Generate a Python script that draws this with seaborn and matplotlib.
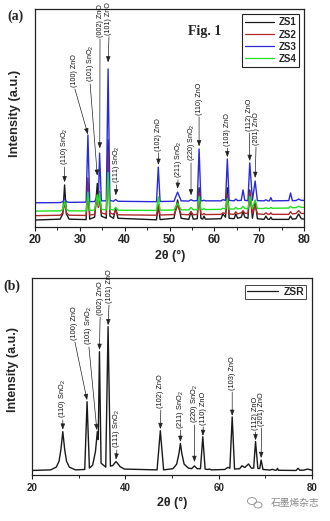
import numpy as np
import pandas as pd
import matplotlib
matplotlib.use("Agg")
import matplotlib.pyplot as plt
import seaborn as sns
from matplotlib.lines import Line2D
from matplotlib.patches import Ellipse

# ---------------- data ----------------
# Panel (a): common 2theta vertices and intensity of each sample (a.u.)
two_theta_a = [20, 25.6, 26.2, 26.6, 27.0, 27.6, 31.4, 31.8, 32.2, 33.3, 33.9, 34.15, 34.4, 34.8,
               35.9, 36.3, 36.7, 37.5, 38.0, 38.5, 47.1, 47.5, 47.9, 51.0, 51.8, 52.6, 54.3, 54.8,
               55.3, 56.2, 56.6, 57.0, 57.4, 57.7, 58.0, 61.5, 61.9, 62.5, 62.9, 63.3, 64.4, 64.8,
               65.2, 66.0, 66.4, 66.8, 67.5, 67.9, 68.5, 69.1, 69.6, 71.1, 71.5, 71.9, 72.3, 72.6,
               72.9, 76.6, 77.0, 77.4, 78.2, 78.8, 79.4, 80]
zs1 = [3.2, 3.6, 6, 19.3, 6, 3.6, 3.4, 20, 3.6, 4.5, 20, 9, 16, 5,
       4, 40, 5, 4, 8.7, 4, 3.3, 10, 3.4, 4, 12.4, 4, 3.5, 7,
       3.6, 3.8, 18, 4, 3.6, 5, 3.6, 3.8, 6, 4.5, 18, 4, 3.8, 6,
       4, 4.5, 7, 4.5, 4, 17, 4, 12, 3.8, 3.5, 5, 3.6, 3.5, 4.5,
       3.5, 3.5, 5, 3.6, 3.8, 6, 3.8, 3.6]
zs2 = [5.2, 5.4, 6.5, 11, 6.5, 5.4, 5.3, 22.5, 5.5, 5.8, 15, 9, 16, 6.5,
       5.8, 35, 6.5, 5.8, 7.5, 5.6, 5.4, 10, 5.5, 5.7, 10, 5.8, 5.6, 7,
       5.6, 5.8, 16, 5.9, 5.7, 6.2, 5.7, 5.8, 6.5, 6.2, 15, 6, 5.8, 7,
       6, 6.5, 7.5, 6.3, 6.2, 16, 6.2, 10, 6, 5.8, 6.5, 5.9, 5.8, 6.5,
       5.8, 5.8, 7, 6, 6.2, 7.5, 6.2, 6.2]
zs3 = [11.1, 11.2, 11.6, 12.8, 11.6, 11.3, 11.4, 42.2, 11.6, 11.7, 14, 12.5, 33.9, 12,
       12, 72.5, 12.2, 11.8, 12.6, 11.8, 11.6, 27.5, 11.7, 11.8, 16, 12, 11.9, 12.5,
       12, 12.1, 35.8, 12.1, 12, 12.3, 12, 12, 12.5, 12.2, 31.2, 12.2, 12, 12.8,
       12.1, 12.2, 17, 12.2, 12.1, 29.4, 12.3, 21.1, 12.1, 12, 12.5, 12, 12, 13.5,
       12, 12.1, 15.6, 12.1, 12.1, 12.8, 12.2, 12.2]
zs4 = [7.3, 7.4, 8, 12, 8, 7.4, 7.4, 16, 7.6, 7.8, 14.7, 10, 15.6, 8.2,
       7.8, 25, 8.2, 7.8, 9, 7.7, 7.6, 13.8, 7.7, 7.8, 11, 7.9, 7.8, 9,
       7.9, 8, 14, 8.1, 8, 8.5, 8, 8.1, 8.6, 8.3, 13, 8.3, 8.2, 9,
       8.3, 8.5, 9.5, 8.5, 8.4, 14, 8.5, 12.4, 8.5, 8.5, 8.8, 8.5, 8.5, 9,
       8.6, 8.7, 9.5, 8.8, 8.9, 9.5, 9, 9]
samples_a = ["ZS1", "ZS2", "ZS3", "ZS4"]

# Panel (b): ZSR pattern
two_theta_b = [20, 24.0, 25.2, 25.8, 26.2, 26.6, 27.0, 27.4, 28.0, 29.3, 31.3, 31.8, 32.3, 33.0,
               33.6, 34.0, 34.2, 34.45, 34.8, 35.8, 36.3, 36.8, 37.3, 37.7, 38.0, 38.3, 38.9, 39.8,
               46.8, 47.5, 48.2, 50.2, 51.0, 51.5, 51.8, 52.1, 52.6, 53.5, 54.2, 54.8, 55.4, 56.1,
               56.6, 57.1, 57.6, 58.0, 58.5, 61.3, 62.0, 62.4, 62.9, 63.4, 64.5, 65.0, 65.6, 66.4,
               67.0, 67.5, 67.9, 68.4, 68.8, 69.1, 69.5, 71.0, 71.5, 72.1, 72.4, 72.6, 72.8, 76.6,
               77.0, 77.4, 78.3, 79.0, 79.6, 80]
zsr = [2.3, 2.6, 4, 7, 13, 22, 13, 7, 4, 2.6, 2.8, 37.2, 3.5, 5,
       12, 22, 18, 62.6, 6, 4, 75.3, 4.5, 4.8, 6, 6.8, 6, 4.2, 3,
       2.6, 22.5, 2.6, 3.2, 5.5, 11, 16, 11, 5.5, 3.5, 3.2, 4.6, 3.2, 3.2,
       19.4, 3, 2.8, 3, 2.6, 2.8, 3.9, 3.4, 29.5, 3, 3.2, 4.7, 3.8, 5.6,
       3.5, 3.5, 17, 3.3, 3.3, 7.6, 2.8, 2.5, 2.9, 2.4, 2.5, 3.4, 2.4, 2.3,
       3.4, 2.4, 2.5, 3.0, 2.7, 2.4]

# Peak labels
peak_labels = ["(110) SnO$_2$", "(100) ZnO", "(101) SnO$_2$", "(002) ZnO", "(101) ZnO",
               "(111) SnO$_2$", "(102) ZnO", "(211) SnO$_2$", "(220) SnO$_2$", "(110) ZnO",
               "(103) ZnO", "(112) ZnO", "(201) ZnO"]
peak_pos = [26.6, 31.8, 33.9, 34.45, 36.3, 38.0, 47.5, 51.8, 54.8, 56.6, 62.9, 67.9, 69.1]

# ---------------- style ----------------
sns.set_style("ticks")
plt.rcParams["font.family"] = ["Liberation Sans", "DejaVu Sans"]
plt.rcParams["mathtext.fontset"] = "custom"
plt.rcParams["mathtext.rm"] = "Liberation Sans"
plt.rcParams["mathtext.it"] = "Liberation Sans"
plt.rcParams["mathtext.bf"] = "Liberation Sans:bold"
plt.rcParams["mathtext.default"] = "regular"

W, H = 330, 521
fig = plt.figure(figsize=(W / 100, H / 100), dpi=100)
fig.patch.set_facecolor("white")

axa = fig.add_axes([35 / W, 1 - 227 / H, 269 / W, 218 / H])
axb = fig.add_axes([32 / W, 1 - 475 / H, 280 / W, 197 / H])

colors_a = {"ZS1": "#1a1a1a", "ZS2": "#b0282a", "ZS3": "#2b2bd6", "ZS4": "#22e022"}

df_a = pd.DataFrame({"2theta": two_theta_a, "ZS1": zs1, "ZS2": zs2, "ZS3": zs3, "ZS4": zs4})
df_a = df_a.melt(id_vars="2theta", var_name="sample", value_name="I")
sns.lineplot(data=df_a, x="2theta", y="I", hue="sample", hue_order=samples_a,
             palette=colors_a, ax=axa, lw=1.0, legend=False, estimator=None)

df_b = pd.DataFrame({"2theta": two_theta_b, "I": zsr})
sns.lineplot(data=df_b, x="2theta", y="I", ax=axb, color="#1a1a1a", lw=1.0,
             estimator=None, legend=False)

for ax in (axa, axb):
    ax.set_xlim(20, 80)
    ax.set_ylim(0, 100)
    ax.set_yticks([])
    ax.set_xlabel("")
    ax.set_ylabel("")
    for s in ax.spines.values():
        s.set_visible(True)
        s.set_linewidth(0.9)
        s.set_color("#222222")
    ax.tick_params(axis="x", direction="out", length=3, width=0.8, color="#222222")
    ax.tick_params(axis="x", which="minor", direction="out", length=1.8, width=0.7, color="#222222")

axa.set_xticks([20, 30, 40, 50, 60, 70, 80])
axa.set_xticks([25, 35, 45, 55, 65, 75], minor=True)
axa.set_xticklabels(["20", "30", "40", "50", "60", "70", "80"], fontsize=8.3, fontweight="bold")
axa.tick_params(axis="x", pad=2)
axb.set_xticks([20, 40, 60, 80])
axb.set_xticks([30, 50, 70], minor=True)
axb.set_xticklabels(["20", "40", "60", "80"], fontsize=7, fontweight="bold")
axb.tick_params(axis="x", pad=3)

# legends
handles_a = [Line2D([0], [0], color=colors_a[s], lw=0.9) for s in samples_a]
lega = axa.legend(handles_a, samples_a, loc="upper right", bbox_to_anchor=(0.982, 0.975),
                  frameon=True, fancybox=False, edgecolor="#222222", framealpha=1,
                  prop={"weight": "bold", "size": 7}, handlelength=2.9, labelspacing=0.22,
                  borderpad=0.3, handletextpad=0.5, borderaxespad=0)
lega.get_frame().set_linewidth(0.8)
legb = axb.legend([Line2D([0], [0], color="#1a1a1a", lw=0.9)], ["ZSR"], loc="upper right",
                  bbox_to_anchor=(0.979, 0.965), frameon=True, fancybox=False,
                  edgecolor="#444444", framealpha=1, prop={"weight": "bold", "size": 7.5},
                  handlelength=3.0, borderpad=0.2, handletextpad=0.5, borderaxespad=0)
legb.get_frame().set_linewidth(0.7)

# annotation layout (text x, text bottom y, arrow tip y) in data units
ann_a = [(26.6, 27.5, 20.5), (28.9, 63.3, 42.5), (32.3, 65.6, 23.5), (34.5, 86.3, 36.0),
         (36.5, 87.3, 75.5), (38.2, 19.3, 14.5), (47.6, 34.0, 28.5), (51.9, 21.6, 17.5),
         (54.8, 29.4, 14.5), (56.6, 50.5, 37.0), (62.9, 36.2, 32.0), (67.8, 43.1, 30.3),
         (69.3, 36.7, 22.5)]
ann_b = [(26.6, 27.9, 23.0), (29.2, 67.5, 38.0), (32.2, 65.0, 22.8), (34.6, 80.2, 63.5),
         (36.5, 86.3, 76.0), (38.2, 12.7, 7.8), (47.6, 33.0, 23.3), (51.8, 22.8, 16.8),
         (54.8, 25.4, 6.6), (56.7, 24.4, 19.8), (62.9, 42.1, 30.0), (67.9, 21.8, 17.6),
         (69.2, 23.9, 8.6)]

def annotate(ax, ann, fs):
    for lab, px, (tx, ty, tip) in zip(peak_labels, peak_pos, ann):
        ax.text(tx, ty + 0.8, lab, rotation=90, ha="center", va="bottom", fontsize=fs,
                color="#111111", clip_on=False)
        ax.annotate("", xy=(px, tip), xytext=(tx, ty),
                    arrowprops=dict(arrowstyle="-|>,head_length=0.35,head_width=0.13",
                                    lw=0.5, color="#222222", shrinkA=0, shrinkB=0))

annotate(axa, ann_a, 5.1)
annotate(axb, ann_b, 5.3)

# texts
axa.text(0.63, 0.895, "Fig. 1", transform=axa.transAxes, fontsize=10, fontweight="bold",
         family="Liberation Serif", ha="center", va="center")
fig.text(16 / W, 1 - 16 / H, "(a)", fontsize=10, fontweight="bold", family="Liberation Serif",
         ha="center", va="center")
fig.text(12 / W, 1 - 286 / H, "(b)", fontsize=10, fontweight="bold", family="Liberation Serif",
         ha="center", va="center")
fig.text(15 / W, 1 - 113 / H, "Intensity (a.u.)", rotation=90, fontsize=9.3, fontweight="bold",
         ha="center", va="center")
fig.text(13 / W, 1 - 370 / H, "Intensity (a.u.)", rotation=90, fontsize=9, fontweight="bold",
         ha="center", va="center")
fig.text(170 / W, 1 - 256 / H, "2θ (°)", fontsize=9, fontweight="bold", ha="center", va="center")
fig.text(172 / W, 1 - 503 / H, "2θ (°)", fontsize=9, fontweight="bold", ha="center", va="center")

# watermark (icon + text)
for (cx, cy, w, h) in [(252, 501, 9, 7), (258, 505, 8, 6)]:
    fig.patches.append(Ellipse((cx / W, 1 - cy / H), w / W, h / H, transform=fig.transFigure,
                               fill=False, edgecolor="#9a9a9a", lw=0.7))
fig.text(295 / W, 1 - 503 / H, "石墨烯杂志", fontsize=7, color="#8a8a8a",
         family=["Noto Sans CJK SC", "DejaVu Sans"], ha="center", va="center")

fig.savefig("out.png", dpi=100, facecolor="white")
